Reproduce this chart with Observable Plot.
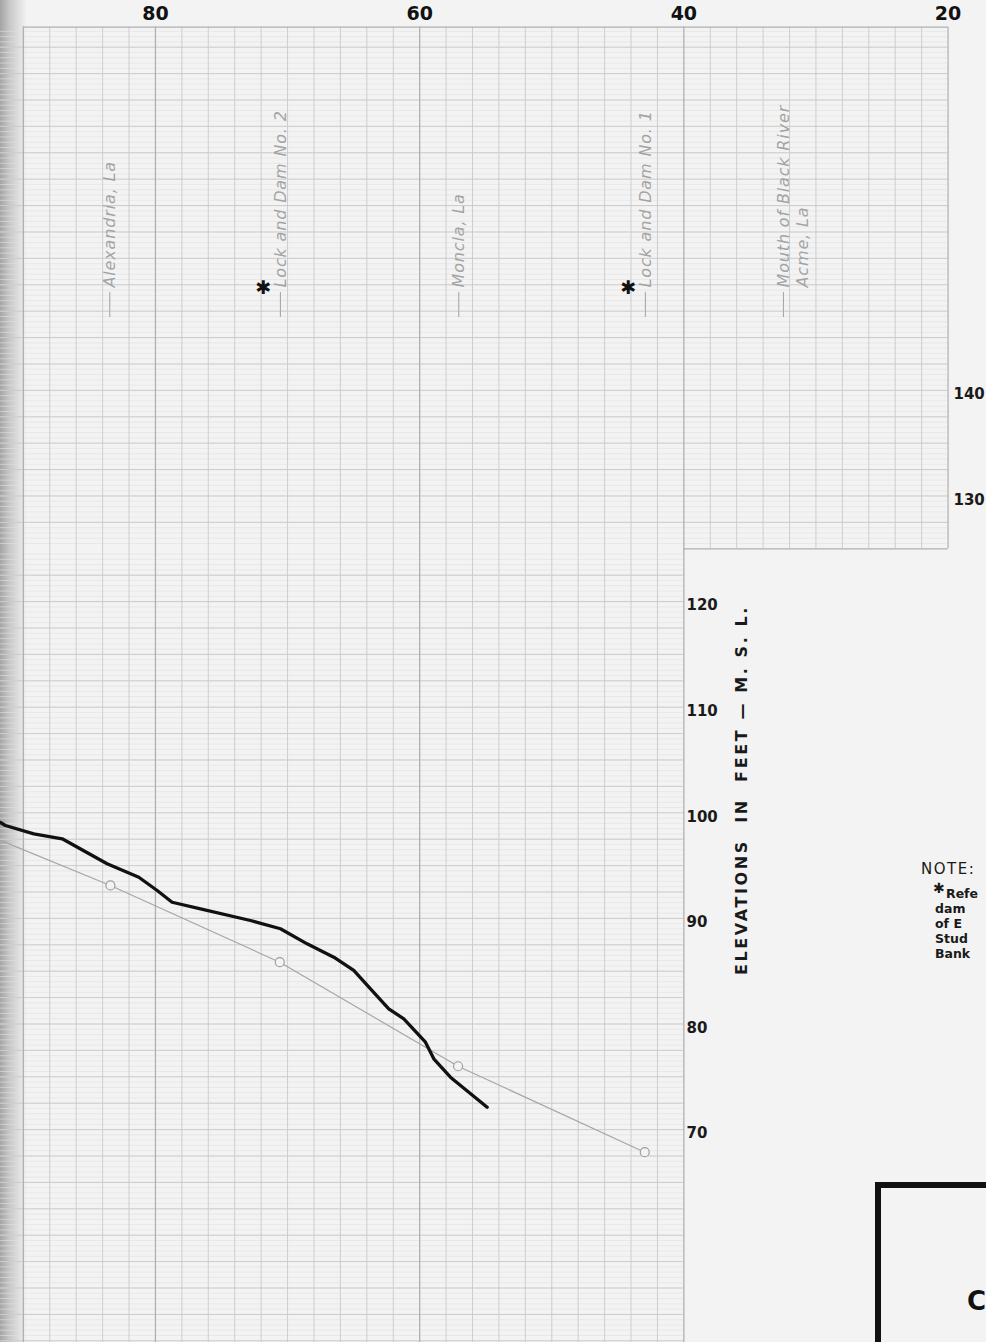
<!DOCTYPE html>
<html>
<head>
<meta charset="utf-8">
<script src="https://cdn.jsdelivr.net/npm/d3@7"></script>
<script src="https://cdn.jsdelivr.net/npm/@observablehq/plot@0.6"></script>
<style>
  html, body { margin: 0; padding: 0; width: 986px; height: 1342px; overflow: hidden; background: #f3f3f3; }
  #page { position: relative; width: 986px; height: 1342px; overflow: hidden;
    background: linear-gradient(to right, #a4a4a4 0px, #c6c6c6 9px, #e2e2e2 20px, #f3f3f3 27px); }
  #chart { position: absolute; left: 0; top: 0; }
  .ytitle { position: absolute; left: 741px; top: 790px; transform: translate(-50%, -50%) rotate(-90deg);
    white-space: nowrap; font: bold 16px "DejaVu Sans", sans-serif; letter-spacing: 2.6px; color: #1a1a1a; }
  .note { position: absolute; left: 921px; top: 861px; font: 15px/17px "DejaVu Sans", sans-serif; letter-spacing: 1.5px; color: #1a1a1a; white-space: nowrap; }
  .nl { position: absolute; font: bold 12.5px/14px "DejaVu Sans", sans-serif; color: #1a1a1a; white-space: nowrap; }
  .box { position: absolute; left: 875px; top: 1182px; width: 300px; height: 400px; border: 6px solid #111; box-sizing: border-box; }
  .boxtext { position: absolute; left: 967px; top: 1286px; font: bold 26px "DejaVu Sans", sans-serif; color: #111; }
</style>
</head>
<body>
<div id="page">
  <div id="chart"></div>
  <div class="ytitle">ELEVATIONS&nbsp; IN&nbsp; FEET — M.&nbsp;S.&nbsp;L.</div>
  <div class="note">NOTE:</div>
  <div class="nl" style="left:933px;top:881px;font-size:14px;line-height:14px">✱</div>
  <div class="nl" style="left:946px;top:887px">Refe</div>
  <div class="nl" style="left:935px;top:902px">dam</div>
  <div class="nl" style="left:935px;top:917px">of E</div>
  <div class="nl" style="left:935px;top:932px">Stud</div>
  <div class="nl" style="left:935px;top:947px">Bank</div>
  <div class="box"></div>
  <div class="boxtext">C</div>
</div>
<script>
// ---- data ----
// Thick black profile (river mile, elevation ft MSL)
const thickMiles = [91.73, 91.36, 89.21, 87.06, 83.66, 81.26, 79.87, 78.74, 76.59, 72.81, 70.54, 68.52, 66.50, 64.99, 63.72, 62.34, 61.20, 59.56, 58.93, 57.67, 54.89];
const thickElev  = [99.08, 98.80, 98.01, 97.54, 95.17, 93.90, 92.64, 91.53, 90.91, 89.80, 89.02, 87.59, 86.33, 85.07, 83.33, 81.44, 80.49, 78.28, 76.70, 74.96, 72.12];

// Thin grey profile with open circles at stations
const poolMiles  = [91.73, 83.41, 70.59, 57.09, 42.96];
const poolElev   = [97.39, 93.12, 85.85, 76.00, 67.86];
const poolCircle = [false, true, true, true, true];

// Stations
const stationMiles = [83.46, 70.54, 57.04, 42.91, 32.46];
const stationNames = ["Alexandria, La", "Lock and Dam No. 2", "Moncla, La", "Lock and Dam No. 1", "Mouth of Black River"];
const stationNames2 = ["", "", "", "", "Acme, La"];
const stationDam = [false, true, false, true, false];

// Axis ticks
const mileTicks = [80, 60, 40, 20];
const upperElevTicks = [140, 130];
const lowerElevTicks = [120, 110, 100, 90, 80, 70];

// ---- tables ----
const thick = thickMiles.map((m, i) => ({mile: m, elev: thickElev[i]}));
const pool = poolMiles.map((m, i) => ({mile: m, elev: poolElev[i], circle: poolCircle[i]}));
const stations = stationMiles.map((m, i) => ({mile: m, name: stationNames[i], name2: stationNames2[i], dam: stationDam[i]}));

// ---- grid (profile paper) ----
const xLeftEdge = 91.73, xRightEdge = 17.09;
const gridTop = 174.4, gridMid = 125, gridBottom = 49.84;
const vFull = d3.range(40, 90.001, 2);
const vUpper = d3.range(20, 39.999, 2);
const hFineLower = d3.range(50, 125, 0.5);
const hFineUpper = d3.range(125.5, gridTop, 0.5);
const hMajLower = d3.range(50, 125, 2.5);
const hMajUpper = d3.range(127.5, gridTop, 2.5);

const paper = "#f3f3f3";
const fine = "#e0e0e0", major = "#c9c9c9", heavy = "#b0b0b0";
const labelGrey = "#a3a3a3";

const chart = Plot.plot({
  width: 986,
  height: 1342,
  margin: 0,
  style: {background: "transparent", overflow: "visible"},
  x: {domain: [xLeftEdge, xRightEdge]},
  y: {domain: [gridBottom, 176.92]},
  marks: [
    // fine horizontal rulings
    Plot.ruleY(hFineLower, {x1: xLeftEdge, x2: 40, stroke: fine, strokeWidth: 0.6}),
    Plot.ruleY(hFineUpper, {x1: xLeftEdge, x2: 20, stroke: fine, strokeWidth: 0.6}),
    // major rulings
    Plot.ruleY(hMajLower, {x1: xLeftEdge, x2: 40, stroke: major, strokeWidth: 0.9}),
    Plot.ruleY(hMajUpper, {x1: xLeftEdge, x2: 20, stroke: major, strokeWidth: 0.9}),
    Plot.ruleX(vFull.filter(d => d % 20 !== 0 && d !== 90), {y1: gridBottom, y2: gridTop, stroke: major, strokeWidth: 0.9}),
    Plot.ruleX(vUpper.filter(d => d % 20 !== 0), {y1: gridMid, y2: gridTop, stroke: major, strokeWidth: 0.9}),
    // heavier lines and borders
    Plot.ruleX([80, 60, 40, 90], {y1: gridBottom, y2: gridTop, stroke: heavy, strokeWidth: 1.3}),
    Plot.ruleX([20], {y1: gridMid, y2: gridTop, stroke: heavy, strokeWidth: 1.2}),
    Plot.ruleY([gridTop], {x1: 90, x2: 20, stroke: heavy, strokeWidth: 1.2}),
    Plot.ruleY([gridMid], {x1: 40, x2: 20, stroke: heavy, strokeWidth: 1.2}),

    // station ticks, labels, dam asterisks
    Plot.ruleX(stations, {x: "mile", insetTop: 292, insetBottom: 1342 - 317, stroke: "#a8a8a8", strokeWidth: 1.1}),
    Plot.text(stations, {x: "mile", frameAnchor: "top", dy: 287, text: "name", rotate: -90, textAnchor: "start",
      lineAnchor: "middle", fontSize: 16, fontStyle: "italic", fontFamily: "DejaVu Sans", fill: labelGrey}),
    Plot.text(stations.filter(d => d.name2), {x: "mile", frameAnchor: "top", dy: 287, dx: 19, text: "name2", rotate: -90, textAnchor: "start",
      lineAnchor: "middle", fontSize: 16, fontStyle: "italic", fontFamily: "DejaVu Sans", fill: labelGrey}),
    Plot.text(stations.filter(d => d.dam), {x: "mile", frameAnchor: "top", dy: 287, dx: -17, text: () => "✱",
      lineAnchor: "middle", fontSize: 19, fontFamily: "DejaVu Sans", fill: "#111"}),

    // profiles
    Plot.line(pool, {x: "mile", y: "elev", stroke: "#a6a6a6", strokeWidth: 1.2}),
    Plot.dot(pool.filter(d => d.circle), {x: "mile", y: "elev", r: 4.5, stroke: "#9e9e9e", fill: paper, strokeWidth: 1.2}),
    Plot.line(thick, {x: "mile", y: "elev", stroke: "#111", strokeWidth: 3.3, strokeLinejoin: "round", strokeLinecap: "round"}),

    // axes
    Plot.axisX(mileTicks, {anchor: "top", tickSize: 0, tickPadding: -19, fontSize: 19, fontWeight: "bold",
      fontFamily: "DejaVu Sans", fill: "#111", label: null}),
    Plot.axisY(upperElevTicks, {anchor: "right", tickSize: 0, tickPadding: -33, dy: 4, textAnchor: "start", fontSize: 15,
      fontWeight: "bold", fontFamily: "DejaVu Sans", fill: "#1a1a1a", label: null}),
    Plot.axisY(lowerElevTicks, {anchor: "right", tickSize: 0, tickPadding: -300, dy: 4, textAnchor: "start", fontSize: 15,
      fontWeight: "bold", fontFamily: "DejaVu Sans", fill: "#1a1a1a", label: null})
  ]
});
// wide drafting-style spacing for the station lettering
chart.querySelectorAll('[font-style="italic"]').forEach(el => { el.style.letterSpacing = "0.85px"; });
document.getElementById("chart").appendChild(chart);
</script>
</body>
</html>
